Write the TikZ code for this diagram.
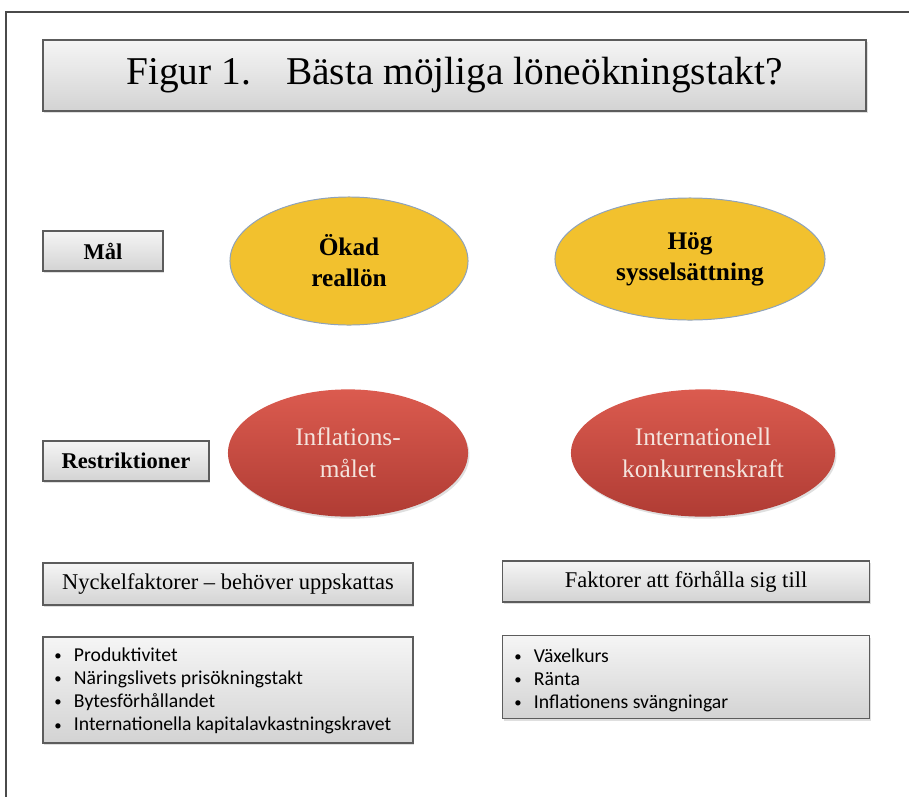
\documentclass[tikz,border=0pt]{standalone}
\usepackage{fontspec}
\setmainfont{Liberation Serif}
\newfontfamily\listfont{Carlito}
\usetikzlibrary{shapes.geometric,shadows,positioning}

\definecolor{boxtop}{HTML}{F5F5F5}
\definecolor{boxbot}{HTML}{D3D3D3}
\definecolor{boxline}{HTML}{5C5C5C}
\definecolor{goalfill}{HTML}{F2C12E}
\definecolor{goalline}{HTML}{8DA2BC}
\definecolor{restop}{HTML}{DB5B4F}
\definecolor{resbot}{HTML}{B03C34}
\definecolor{restext}{HTML}{F4E4DD}
\definecolor{frameline}{HTML}{4A4A4A}

\tikzset{
  greybox/.style={rectangle, draw=boxline, line width=1.2pt, top color=boxtop, bottom color=boxbot,
    inner sep=0pt, drop shadow={opacity=0.25, shadow xshift=1pt, shadow yshift=-1.5pt}},
  goal/.style={ellipse, draw=goalline, line width=0.7pt, fill=goalfill, inner sep=0pt, align=center,
    font=\fontsize{18}{22}\selectfont\bfseries},
  restr/.style={ellipse, top color=restop, bottom color=resbot, inner sep=0pt, align=center, text=restext,
    font=\fontsize{18}{22.5}\selectfont, drop shadow={opacity=0.25, shadow xshift=1pt, shadow yshift=-1.5pt}},
  listtext/.style={align=left, inner sep=0pt, font=\listfont\fontsize{14}{16.4}\selectfont}
}
\newcommand{\bul}{\makebox[14pt][l]{\raisebox{0.5pt}{\scalebox{0.75}{\textbullet}}}}

\begin{document}
\begin{tikzpicture}[x=0.025cm,y=-0.025cm]
\useasboundingbox (0,0) rectangle (909,797);

% frame
\draw[frameline, line width=1.2pt] (909,12) -- (6,12) -- (6,797);

% title
\node[greybox, minimum width=20.575cm, minimum height=1.775cm,
  font=\fontsize{28}{32}\selectfont] (title) at (454.5,75.5)
  {Figur 1.\hspace{25pt}Bästa möjliga löneökningstakt?};

% row labels
\node[greybox, minimum width=3cm, minimum height=1cm, font=\fontsize{16}{18}\selectfont\bfseries]
  (mal) at (103,251) {Mål};
\node[greybox, minimum width=4.15cm, minimum height=1cm, font=\fontsize{16}{18}\selectfont\bfseries]
  (restr) at (126,461) {Restriktioner};

% goals
\node[goal, minimum width=5.95cm, minimum height=3.2cm] (reallon) at (349,261) {Ökad\\reallön};
\node[goal, minimum width=6.75cm, minimum height=3.05cm] (syssel) at (690,259) {Hög\\sysselsättning};

% restrictions
\node[restr, minimum width=6cm, minimum height=3.18cm] (inflation) at (348,453) {Inflations-\\målet};
\node[restr, minimum width=6.6cm, minimum height=3.18cm] (konkurrens) at (703,453) {Internationell\\konkurrenskraft};

% factors
\node[greybox, minimum width=9.25cm, minimum height=1.05cm, font=\fontsize{16}{18}\selectfont]
  (nyckel) at (228,584) {Nyckelfaktorer -- behöver uppskattas};
\node[greybox, minimum width=9.25cm, minimum height=2.65cm] (nyckellist) at (228,690) {};
\node[listtext, anchor=west] (nyckeltext) at (54,691)
  {\bul Produktivitet\\ \bul Näringslivets prisökningstakt\\ \bul Bytesförhållandet\\
   \bul Internationella kapitalavkastningskravet};

\node[greybox, minimum width=9.175cm, minimum height=1.025cm, font=\fontsize{16}{18}\selectfont]
  (faktorer) at (686,581.5) {Faktorer att förhålla sig till};
\node[greybox, minimum width=9.175cm, minimum height=2.075cm] (faktorlist) at (686,677) {};
\node[listtext, anchor=west] (faktortext) at (514,680)
  {\bul Växelkurs\\ \bul Ränta\\ \bul Inflationens svängningar};

\end{tikzpicture}
\end{document}
